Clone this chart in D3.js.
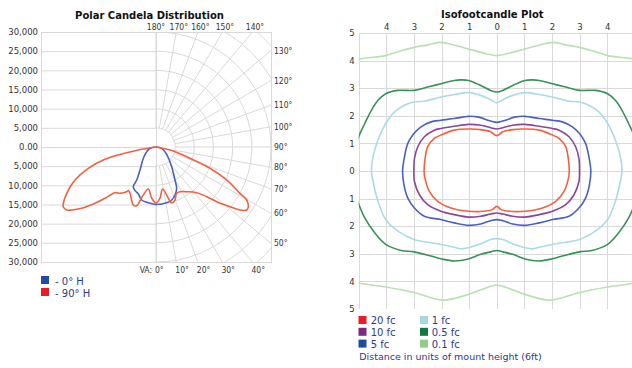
<!DOCTYPE html>
<html><head><meta charset="utf-8">
<script src="https://cdn.jsdelivr.net/npm/d3@7"></script>
<style>
body{margin:0;background:#fff}
svg{display:block}
text{font-family:"DejaVu Sans",Verdana,sans-serif}
</style>
</head><body>
<svg id="c" width="632" height="368"></svg>
<script>
// ---------------- DATA ----------------
// Polar candela chart
const candelaTicks = [30000,25000,20000,15000,10000,5000,0,-5000,-10000,-15000,-20000,-25000,-30000];
const candelaRings = [5000,10000,15000,20000,25000,30000,35000,40000];
const verticalAngles = [0,10,20,30,40,50,60,70,80,90,100,110,120,130,140,150,160,170,180];
const topAngleLabels = [180,170,160,150,140];
const sideAngleLabels = [130,120,110,100,90,80,70,60,50];
const bottomAngleLabels = [0,10,20,30,40];
// [vertical angle, candela]  left half (listed 90 -> 0) and right half (0 -> 90)
const h90Left = [[90,0],[80.4,4680],[78.5,9130],[76.4,13690],[72.5,18520],[67.8,22820],[62.6,26240],[58.7,28300],[57.2,28770],[54.8,28510],[53.2,27450],[50.5,25130],[47.3,21650],[44.8,18870],[41.9,16010],[37.9,15300],[33.2,13940],[32.5,13450],[29.5,13780],[21.4,16250],[18.2,16120],[15.6,13550],[10.4,11140],[5,13300],[0,14600]];
const h90Right = [[0,14600],[4.5,13350],[9,11090],[15.7,15180],[19.7,14690],[24,13230],[28.2,13240],[34.5,14150],[41.7,15960],[45.6,18520],[48,21320],[51.1,24800],[53.1,27390],[55.2,28810],[57.1,28680],[59.7,27400],[61.1,25020],[65,20350],[68.5,15140],[71.6,9350],[77,4630],[90,0]];
const h0Left = [[90,0],[77.8,1600],[63.2,2720],[48.3,4430],[34.8,7310],[30.3,9970],[29.8,11930],[26,12600],[20.6,13100],[15.1,14320],[9.5,14630],[0,15000]];
const h0Right = [[0,15000],[9.1,14870],[16.5,14420],[21.6,13470],[26.6,12050],[29.9,9930],[38.6,6570],[45.6,4850],[57.8,3080],[77,1520],[90,0]];
const polarSeries = ["- 0° H","- 90° H"];

// Isofootcandle chart: left half of each contour, from top centre round to bottom centre (units of mount height)
const isoTicks = [-5,-4,-3,-2,-1,0,1,2,3,4,5];
const isoTopTicks = [-4,-3,-2,-1,0,1,2,3,4];
const fc20 = [[0,1.28],[-0.22,1.42],[-0.58,1.5],[-1.02,1.52],[-1.54,1.48],[-2.02,1.3],[-2.26,1.18],[-2.5,0.88],[-2.6,0.4],[-2.63,0],[-2.6,-0.26],[-2.44,-0.74],[-2.14,-1.1],[-1.66,-1.34],[-1.02,-1.46],[-0.46,-1.46],[-0.16,-1.4],[0,-1.28]];
const fc10 = [[0,1.52],[-0.22,1.57],[-0.58,1.66],[-1.02,1.69],[-1.54,1.62],[-2.02,1.54],[-2.26,1.48],[-2.62,1.24],[-2.86,0.88],[-2.98,0.45],[-3.0,0],[-2.98,-0.38],[-2.8,-0.86],[-2.5,-1.22],[-2.02,-1.46],[-1.54,-1.58],[-1.02,-1.67],[-0.58,-1.64],[-0.22,-1.56],[0,-1.52]];
const fc5 = [[0,1.76],[-0.22,1.81],[-0.7,1.96],[-1.02,1.98],[-1.54,1.9],[-2.02,1.84],[-2.38,1.78],[-2.74,1.6],[-3.0,1.36],[-3.22,1.0],[-3.34,0.52],[-3.41,0],[-3.36,-0.5],[-3.22,-0.98],[-2.98,-1.34],[-2.62,-1.64],[-2.02,-1.76],[-1.54,-1.88],[-1.02,-1.97],[-0.58,-1.92],[-0.22,-1.8],[0,-1.76]];
const fc1 = [[0,2.47],[-0.22,2.58],[-0.58,2.74],[-1.02,2.84],[-1.54,2.77],[-2.02,2.68],[-2.62,2.53],[-3.0,2.5],[-3.34,2.38],[-3.7,2.14],[-4.02,1.72],[-4.3,1.12],[-4.48,0.52],[-4.54,0],[-4.48,-0.38],[-4.3,-1.1],[-4.02,-1.76],[-3.58,-2.18],[-3.0,-2.48],[-2.38,-2.6],[-2.02,-2.66],[-1.54,-2.76],[-1.3,-2.82],[-1.02,-2.78],[-0.58,-2.64],[-0.22,-2.48],[0,-2.45]];
const fc05 = [[0,2.86],[-0.22,2.92],[-0.58,3.1],[-1.02,3.28],[-1.3,3.3],[-1.54,3.28],[-2.02,3.16],[-2.5,3.04],[-3.0,2.92],[-3.58,2.92],[-4.02,2.8],[-4.3,2.56],[-4.54,2.2],[-4.78,1.72],[-5.0,1.24],[-5.2,0.6],[-5.25,0],[-5.2,-0.6],[-5.0,-1.2],[-4.78,-1.7],[-4.42,-2.24],[-4.02,-2.66],[-3.46,-2.88],[-3.0,-2.93],[-2.38,-3.08],[-2.02,-3.18],[-1.54,-3.26],[-1.06,-3.2],[-0.58,-3.02],[-0.22,-2.93],[0,-2.88]];
const fc01 = [[0,4.18],[-0.34,4.24],[-1.02,4.42],[-1.78,4.62],[-2.08,4.66],[-2.5,4.57],[-3.0,4.48],[-3.46,4.36],[-4.02,4.18],[-5.02,4.05],[-6.0,3.7],[-6.6,0],[-6.0,-3.7],[-5.02,-4.05],[-4.02,-4.2],[-3.0,-4.4],[-2.38,-4.59],[-2.02,-4.67],[-1.78,-4.67],[-1.02,-4.47],[-0.34,-4.22],[0,-4.13]];
const isoLabels = ["20 fc","10 fc","5 fc","1 fc","0.5 fc","0.1 fc"];

// ---------------- DRAW ----------------
const svg = d3.select("#c");
const gridCol = "#d9d9d9", tickCol = "#333", legendTextCol = "#2e3a87";
const narrowFont = '"DejaVu Sans Condensed","DejaVu Sans",sans-serif';

// ===== Polar candela =====
const cx = 156, cy = 147, R = 115;
const x0 = cx - R, x1 = cx + R, y0 = cy - R, y1 = cy + R;
const yScale = d3.scaleLinear().domain([30000,-30000]).range([y0, y1]);
const rScale = d3.scaleLinear().domain([0,30000]).range([0, R]);
const toRad = d => d * Math.PI / 180;

svg.append("text").attr("x",149.5).attr("y",19).attr("text-anchor","middle")
  .style("font-weight","bold").style("font-size","10px").attr("fill","#111")
  .text("Polar Candela Distribution");

svg.append("clipPath").attr("id","clipP").append("rect")
  .attr("x",x0).attr("y",y0).attr("width",x1-x0).attr("height",y1-y0);
const pg = svg.append("g").attr("clip-path","url(#clipP)");
const grid = pg.append("g").attr("stroke",gridCol).attr("fill","none").attr("stroke-width",1);
grid.selectAll("line.h").data(candelaTicks).join("line")
  .attr("x1",x0).attr("x2",cx).attr("y1",d=>yScale(d)+0.5).attr("y2",d=>yScale(d)+0.5);
grid.append("line").attr("x1",cx+0.5).attr("x2",cx+0.5).attr("y1",y0).attr("y2",y1);
grid.selectAll("path.ring").data(candelaRings).join("path")
  .attr("d", d => { const p = d3.path(); const r = rScale(d); p.moveTo(cx, cy - r); p.arc(cx, cy, r, -Math.PI/2, Math.PI/2); return p.toString(); });
grid.selectAll("line.rad").data(verticalAngles).join("line")
  .attr("x1", d => cx + rScale(5000)*Math.sin(toRad(d)))
  .attr("y1", d => cy + rScale(5000)*Math.cos(toRad(d)))
  .attr("x2", d => cx + rScale(60000)*Math.sin(toRad(d)))
  .attr("y2", d => cy + rScale(60000)*Math.cos(toRad(d)));
svg.append("rect").attr("x",x0+0.5).attr("y",y0+0.5).attr("width",x1-x0).attr("height",y1-y0)
  .attr("fill","none").attr("stroke",gridCol);

const fmt = d => d === 0 ? "0.00" : d3.format(",")(Math.abs(d));
const yAxis = svg.append("g").attr("transform",`translate(${x0},0)`)
  .call(d3.axisLeft(yScale).tickValues(candelaTicks).tickFormat(fmt).tickSize(0).tickPadding(3));
yAxis.select(".domain").remove();
yAxis.selectAll("text").attr("fill",tickCol).style("font-size","8.5px").style("font-family","DejaVu Sans");

const angStyle = s => s.attr("fill",tickCol).style("font-size","8.5px").style("font-family",narrowFont);
svg.selectAll("text.top").data(topAngleLabels).join("text").call(angStyle)
  .attr("x", d => cx + (cy - y0) * Math.tan(toRad(180 - d)) + (d===180?0:2.5))
  .attr("y", 29.5).attr("text-anchor","middle").text(d => d + "°");
svg.selectAll("text.side").data(sideAngleLabels).join("text").call(angStyle)
  .attr("x", x1 + 3)
  .attr("y", d => cy + R * Math.cos(toRad(d)) / Math.sin(toRad(d)) + 3)
  .text(d => d + "°");
svg.selectAll("text.bot").data(bottomAngleLabels).join("text").call(angStyle)
  .attr("x", d => cx + (y1 - cy) * Math.tan(toRad(d)) - 1)
  .attr("y", 272.5).text(d => d + "°");
svg.append("text").call(angStyle).attr("x",cx-4).attr("y",272.5).attr("text-anchor","end").text("VA:");

const radial = d3.lineRadial()
  .angle(d => d.side < 0 ? Math.PI + toRad(d.va) : Math.PI - toRad(d.va))
  .radius(d => rScale(d.cd))
  .curve(d3.curveCatmullRom.alpha(0.5));
const seriesPts = (L, Rt) => L.map(([va,cd]) => ({va,cd,side:-1})).concat(Rt.slice(1).map(([va,cd]) => ({va,cd,side:1})));
const pc = pg.append("g").attr("transform",`translate(${cx},${cy})`).attr("fill","none").attr("stroke-width",1.6);
pc.append("path").attr("d", radial(seriesPts(h0Left,h0Right))).attr("stroke","#4a60c2");
pc.append("path").attr("d", radial(seriesPts(h90Left,h90Right))).attr("stroke","#f2603f");

const polarColors = ["#1f4ea1","#ed1c24"];
const pl = svg.append("g");
pl.selectAll("rect").data(polarSeries).join("rect")
  .attr("x",41).attr("y",(d,i)=>276 + i*12).attr("width",8).attr("height",8).attr("fill",(d,i)=>polarColors[i]);
pl.selectAll("text").data(polarSeries).join("text")
  .attr("x",55).attr("y",(d,i)=>284.5 + i*12).attr("fill",legendTextCol).style("font-size","10px").text(d=>d);

// ===== Isofootcandle =====
const ix = d3.scaleLinear().domain([-5,5]).range([358.7, 634.7]);
const iy = d3.scaleLinear().domain([-5,5]).range([309, 33]);

svg.append("text").attr("x",492.3).attr("y",18.3).attr("text-anchor","middle")
  .style("font-weight","bold").style("font-size","10px").attr("fill","#111")
  .text("Isofootcandle Plot");

svg.append("clipPath").attr("id","clipI").append("rect")
  .attr("x",ix(-5)).attr("y",iy(5)).attr("width",632-ix(-5)).attr("height",iy(-5)-iy(5));
const ig = svg.append("g").attr("clip-path","url(#clipI)");
const igrid = ig.append("g").attr("stroke",gridCol).attr("stroke-width",1);
igrid.selectAll("line.v").data(isoTicks).join("line")
  .attr("x1",d=>Math.round(ix(d))+0.5).attr("x2",d=>Math.round(ix(d))+0.5).attr("y1",iy(5)).attr("y2",iy(-5));
igrid.selectAll("line.h").data(isoTicks).join("line")
  .attr("y1",d=>Math.round(iy(d))+0.5).attr("y2",d=>Math.round(iy(d))+0.5).attr("x1",ix(-5)).attr("x2",ix(5));

const iLeft = svg.append("g").attr("transform",`translate(${ix(-5)},0)`)
  .call(d3.axisLeft(iy).tickValues(isoTicks).tickFormat(d=>Math.abs(d)).tickSize(0).tickPadding(4));
iLeft.select(".domain").remove();
iLeft.selectAll("text").attr("fill",tickCol).style("font-size","8.5px").style("font-family","DejaVu Sans");
const iTop = svg.append("g").attr("transform",`translate(0,${iy(5)})`)
  .call(d3.axisTop(ix).tickValues(isoTopTicks).tickFormat(d=>Math.abs(d)).tickSize(0).tickPadding(3));
iTop.select(".domain").remove();
iTop.selectAll("text").attr("fill",tickCol).style("font-size","8.5px").style("font-family","DejaVu Sans");

const contour = d3.line().x(d=>ix(d[0])).y(d=>iy(d[1])).curve(d3.curveCatmullRomClosed.alpha(0.5));
function closed(pts){ const mirror = pts.slice(1,-1).map(([x,y])=>[-x,y]).reverse(); return pts.concat(mirror); }
const isoData = [fc01, fc05, fc1, fc5, fc10, fc20];
const isoLine = ["#b9e0b1","#3a9058","#aadbe6","#4d5fc0","#8c4696","#f4603f"];
ig.append("g").attr("fill","none").attr("stroke-width",1.6)
  .selectAll("path").data(isoData).join("path")
  .attr("d", d => contour(closed(d))).attr("stroke",(d,i)=>isoLine[i]);

const isoSwatch = ["#ed1c24","#7a2a83","#1e4da0","#a5dae4","#0e7a3d","#8fce87"];
const il = svg.append("g");
il.selectAll("rect").data(isoLabels).join("rect")
  .attr("x",(d,i)=> i<3 ? 358.5 : 420).attr("y",(d,i)=>316 + (i%3)*11.8)
  .attr("width",8).attr("height",8).attr("fill",(d,i)=>isoSwatch[i]);
il.selectAll("text").data(isoLabels).join("text")
  .attr("x",(d,i)=> i<3 ? 370.7 : 431.7).attr("y",(d,i)=>324.3 + (i%3)*11.8)
  .attr("fill",legendTextCol).style("font-size","10px").text(d=>d);
svg.append("text").attr("x",359.3).attr("y",359.5).attr("fill",legendTextCol).style("font-size","9.5px")
  .text("Distance in units of mount height (6ft)");
</script>
</body></html>
